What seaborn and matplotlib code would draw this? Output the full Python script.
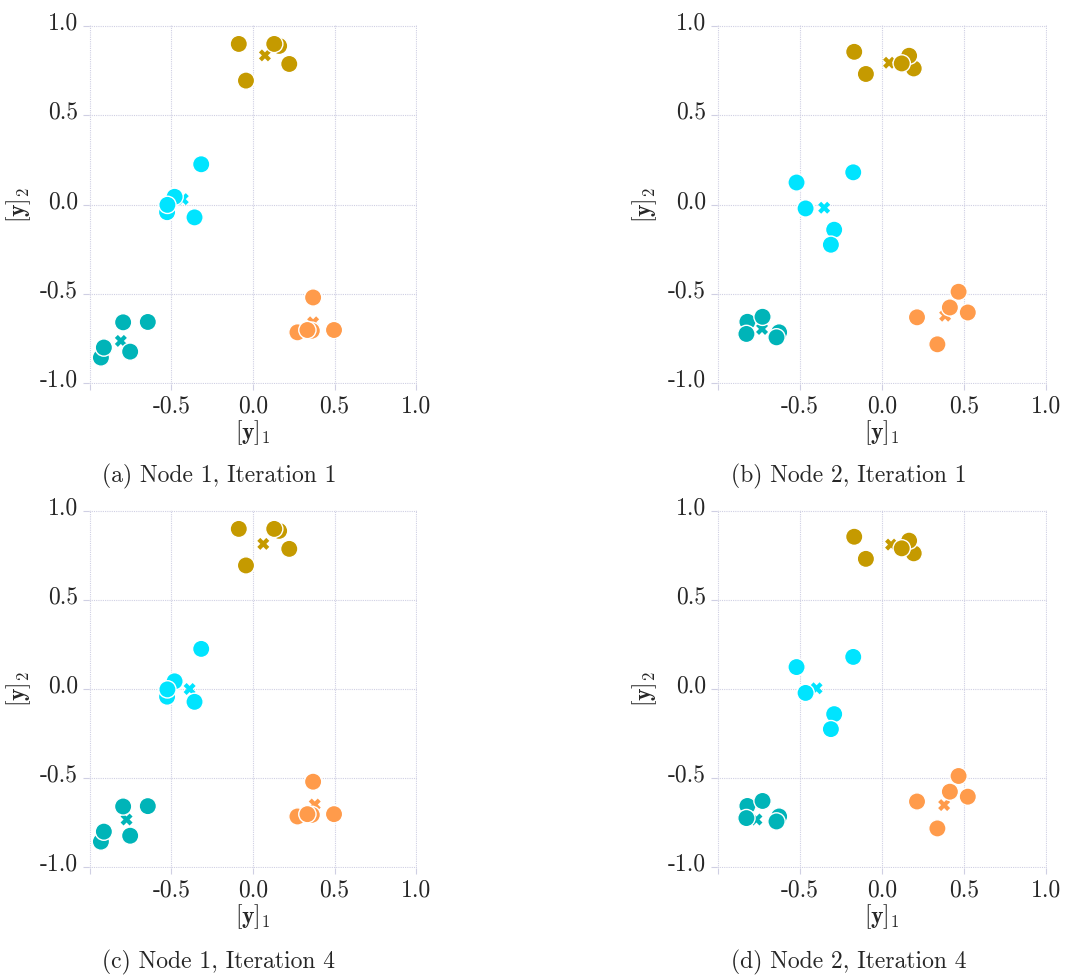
import matplotlib
matplotlib.use("Agg")
import matplotlib.pyplot as plt
import matplotlib.transforms as mtransforms
import pandas as pd
import seaborn as sns

sns.set_style("white")
plt.rcParams.update({
    "font.family": ["cmr10"],
    "mathtext.fontset": "cm",
    "axes.unicode_minus": False,
    "axes.formatter.use_mathtext": True,
})

# cluster membership of the 20 samples (5 per cluster)
clusters = ["k1"] * 5 + ["k2"] * 5 + ["k3"] * 5 + ["k4"] * 5
cluster_names = ["k1", "k2", "k3", "k4"]
cluster_colors = ["#c59a00", "#00e4ff", "#00b4b8", "#ff9b4b"]

# samples held by node 1
node1_x = [-0.087, -0.043, 0.222, 0.160, 0.130,
           -0.317, -0.480, -0.358, -0.526, -0.524,
           -0.795, -0.644, -0.752, -0.931, -0.913,
           0.368, 0.496, 0.272, 0.360, 0.333]
node1_y = [0.898, 0.693, 0.786, 0.887, 0.898,
           0.225, 0.043, -0.072, -0.043, -0.002,
           -0.659, -0.657, -0.823, -0.856, -0.800,
           -0.520, -0.702, -0.715, -0.706, -0.702]

# samples held by node 2
node2_x = [-0.169, -0.098, 0.193, 0.165, 0.120,
           -0.520, -0.175, -0.465, -0.291, -0.311,
           -0.819, -0.727, -0.825, -0.626, -0.642,
           0.466, 0.413, 0.522, 0.213, 0.337]
node2_y = [0.854, 0.730, 0.761, 0.832, 0.789,
           0.123, 0.180, -0.022, -0.141, -0.225,
           -0.656, -0.628, -0.724, -0.715, -0.743,
           -0.488, -0.576, -0.604, -0.631, -0.782]

# centroid estimates per node and iteration
cent_n1_it1_x = [0.073, -0.430, -0.809, 0.368]
cent_n1_it1_y = [0.834, 0.030, -0.763, -0.659]
cent_n2_it1_x = [0.043, -0.352, -0.730, 0.384]
cent_n2_it1_y = [0.793, -0.018, -0.696, -0.622]
cent_n1_it4_x = [0.063, -0.388, -0.774, 0.378]
cent_n1_it4_y = [0.814, 0.000, -0.732, -0.648]
cent_n2_it4_x = [0.055, -0.398, -0.764, 0.378]
cent_n2_it4_y = [0.810, 0.004, -0.732, -0.651]

captions = ["(a) Node 1, Iteration 1", "(b) Node 2, Iteration 1",
            "(c) Node 1, Iteration 4", "(d) Node 2, Iteration 4"]
tick_values = [-1.0, -0.5, 0.0, 0.5, 1.0]
xtick_labels = ["", "-0.5", "0.0", "0.5", "1.0"]
ytick_labels = ["-1.0", "-0.5", "0.0", "0.5", "1.0"]

panels = [
    (node1_x, node1_y, cent_n1_it1_x, cent_n1_it1_y),
    (node2_x, node2_y, cent_n2_it1_x, cent_n2_it1_y),
    (node1_x, node1_y, cent_n1_it4_x, cent_n1_it4_y),
    (node2_x, node2_y, cent_n2_it4_x, cent_n2_it4_y),
]

W, H = 1076, 975
fig = plt.figure(figsize=(W / 100, H / 100), dpi=100)
palette = dict(zip(cluster_names, cluster_colors))
grid_color = "#cfcfe3"
FS = 17

# axes boxes in pixels: (left, top, right, bottom)
boxes = [(89, 25, 417, 384), (717, 25, 1047, 384),
         (89, 510, 417, 868), (717, 510, 1047, 868)]
caption_pos = [(219, 476), (849, 476), (219, 962), (849, 962)]
ylabel_x = [22, 648, 22, 648]
raise_ylabels = mtransforms.ScaledTranslation(0, 5 / 100, fig.dpi_scale_trans)

for i, (px, py, cx, cy) in enumerate(panels):
    l, t, r, b = boxes[i]
    ax = fig.add_axes([l / W, 1 - b / H, (r - l) / W, (b - t) / H])
    pts = pd.DataFrame({"x": px, "y": py, "cluster": clusters})
    cen = pd.DataFrame({"x": cx, "y": cy, "cluster": cluster_names})
    sns.scatterplot(data=cen, x="x", y="y", hue="cluster", palette=palette,
                    marker="X", s=75, linewidth=0, legend=False, ax=ax, zorder=3)
    sns.scatterplot(data=pts, x="x", y="y", hue="cluster", palette=palette,
                    s=155, edgecolor="white", linewidth=1.0, legend=False,
                    ax=ax, zorder=4)
    ax.set_xlim(-1.004, 1.004)
    ax.set_ylim(-1.004, 1.004)
    ax.set_xticks(tick_values)
    ax.set_xticklabels(xtick_labels)
    ax.set_yticks(tick_values)
    ax.set_yticklabels(ytick_labels)
    for s in ax.spines.values():
        s.set_visible(False)
    ax.grid(True, linestyle=(0, (1, 1)), linewidth=0.8, color=grid_color)
    ax.tick_params(axis="both", length=4, width=0.8, color=grid_color,
                   labelsize=FS, pad=4, direction="out",
                   bottom=True, left=True)
    for lbl in ax.get_yticklabels():
        lbl.set_transform(lbl.get_transform() + raise_ylabels)
    ax.set_xlabel(r"$[\mathbf{y}]_1$", fontsize=FS)
    ax.set_ylabel(r"$[\mathbf{y}]_2$", fontsize=FS)
    ax.xaxis.set_label_coords(0.5, -34 / (b - t))
    ax.yaxis.set_label_coords((ylabel_x[i] + 11 - l) / (r - l), 0.5)
    ax.set_axisbelow(True)
    cxp, cyp = caption_pos[i]
    fig.text(cxp / W, 1 - cyp / H, captions[i], ha="center", va="center",
             fontsize=FS)

fig.savefig("out.png", dpi=100)
